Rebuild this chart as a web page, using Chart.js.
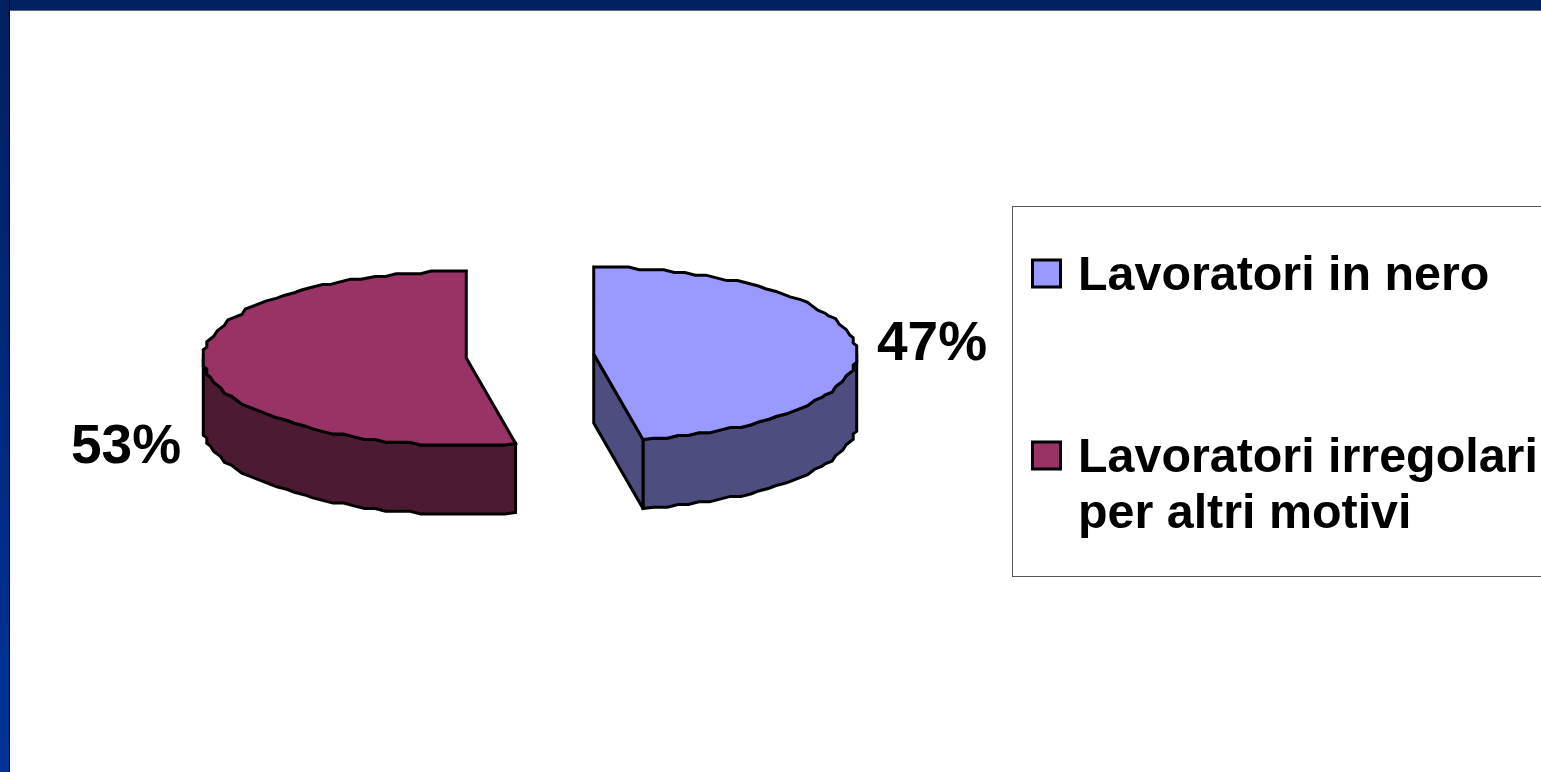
<!DOCTYPE html>
<html lang="it">
<head>
<meta charset="utf-8">
<title>Lavoratori irregolari</title>
<script src="https://cdn.jsdelivr.net/npm/chart.js@4"></script>
<style>
  html, body { margin: 0; padding: 0; background: #fff; overflow: hidden; }
  #wrap { position: relative; width: 1541px; height: 772px; }
  #topBar { position: absolute; left: 0; top: 0; width: 1541px; height: 10px; background: #002060; border-bottom: 1px solid #666; }
  #leftBar { position: absolute; left: 0; top: 0; width: 9px; height: 772px; background: linear-gradient(#002060, #003399); border-right: 1px solid #000; }
  canvas { position: absolute; left: 0; top: 0; }
</style>
</head>
<body>
<div id="wrap">
  <canvas id="torta" width="1541" height="772"></canvas>
  <div id="topBar"></div>
  <div id="leftBar"></div>
</div>
<script>
// Dati
var categorie = [['Lavoratori in nero'], ['Lavoratori irregolari', 'per altri motivi']];
var valori = [47, 53];
var coloriSopra = ['#9999FF', '#993366'];
var coloriLato = ['#4D4D80', '#4D1A33'];

var SCHIACCIA = 87 / 263;  // rapporto ellisse
var SPESSORE = 69;         // altezza della torta

// Punti dell'ellisse tra due angoli, a scalini come nell'originale
function puntiArco(cx, cy, r, a0, a1) {
  var pts = [];
  var gx = r / 75, gy = r * SCHIACCIA / 32;
  var n = Math.max(2, Math.round((a1 - a0) / 0.045));
  for (var i = 0; i <= n; i++) {
    var a = a0 + (a1 - a0) * i / n;
    var x = Math.cos(a) * r;
    var y = Math.sin(a) * r * SCHIACCIA;
    if (i > 0 && i < n) {
      x = Math.round(x / gx) * gx;
      y = Math.round(y / gy) * gy;
    }
    pts.push([cx + x, cy + y]);
  }
  return pts;
}

function tracciaChiusa(ctx, pts, riempi) {
  ctx.beginPath();
  pts.forEach(function (p, i) {
    if (i === 0) ctx.moveTo(p[0], p[1]);
    else ctx.lineTo(p[0], p[1]);
  });
  ctx.closePath();
  ctx.fillStyle = riempi;
  ctx.fill();
  ctx.stroke();
}

// Disegna le fette 3D usando la geometria calcolata da Chart.js
var torta3D = {
  id: 'torta3D',
  beforeDatasetsDraw: function (chart) {
    var ctx = chart.ctx;
    var archi = chart.getDatasetMeta(0).data;
    ctx.save();
    ctx.lineWidth = 3;
    ctx.lineJoin = 'miter';
    ctx.miterLimit = 3;
    ctx.strokeStyle = '#000';
    archi.forEach(function (arco, i) {
      var a0 = arco.startAngle, a1 = arco.endAngle, r = arco.outerRadius;
      var meta = (a0 + a1) / 2;
      var off = arco.options.offset;
      var cx = arco.x + Math.cos(meta) * off;
      var cy = arco.y + Math.sin(meta) * off * SCHIACCIA;
      var bordo = puntiArco(cx, cy, r, a0, a1);

      // parete curva, solo la parte davanti (stessi punti del bordo)
      var davanti = bordo.filter(function (p) { return p[1] >= cy; });
      if (davanti.length > 1) {
        var sotto = davanti.map(function (p) { return [p[0], p[1] + SPESSORE]; }).reverse();
        tracciaChiusa(ctx, davanti.concat(sotto), coloriLato[i]);
      }

      // taglio visibile
      if (Math.cos(a1) > 0.01) {
        var ex = cx + Math.cos(a1) * r, ey = cy + Math.sin(a1) * r * SCHIACCIA;
        tracciaChiusa(ctx, [[cx, cy], [ex, ey], [ex, ey + SPESSORE], [cx, cy + SPESSORE]], coloriLato[i]);
      }

      // faccia superiore
      tracciaChiusa(ctx, [[cx, cy]].concat(bordo), coloriSopra[i]);
    });
    ctx.restore();
    return false;
  }
};

// Etichette percentuali e legenda
var testi = {
  id: 'testi',
  afterDraw: function (chart) {
    var ctx = chart.ctx;
    var dati = chart.data.datasets[0].data;
    ctx.save();
    ctx.fillStyle = '#000';
    ctx.font = 'bold 55px "Liberation Sans", Arial, sans-serif';
    ctx.textBaseline = 'alphabetic';
    ctx.textAlign = 'left';
    ctx.fillText(dati[0] + '%', 877, 360);
    ctx.fillText(dati[1] + '%', 71, 463);

    // riquadro legenda
    ctx.strokeStyle = '#555';
    ctx.lineWidth = 1;
    ctx.strokeRect(1012.5, 206.5, 600, 370);

    ctx.font = 'bold 48.4px "Liberation Sans", Arial, sans-serif';
    var baseY = [290, 472];
    chart.data.labels.forEach(function (righe, i) {
      ctx.fillStyle = coloriSopra[i];
      ctx.strokeStyle = '#000';
      ctx.lineWidth = 3;
      ctx.fillRect(1032.5, baseY[i] - 30, 28, 27);
      ctx.strokeRect(1032.5, baseY[i] - 30, 28, 27);
      ctx.fillStyle = '#000';
      righe.forEach(function (riga, j) {
        ctx.fillText(riga, 1078, baseY[i] + j * 56);
      });
    });
    ctx.restore();
  }
};

new Chart(document.getElementById('torta').getContext('2d'), {
  type: 'pie',
  data: {
    labels: categorie,
    datasets: [{
      data: valori,
      backgroundColor: coloriSopra,
      borderColor: '#000',
      borderWidth: 3,
      offset: 64
    }]
  },
  options: {
    responsive: false,
    animation: false,
    radius: 263,
    layout: { padding: { left: 0, right: 481, top: 0, bottom: 60 } },
    plugins: {
      legend: { display: false },
      tooltip: { enabled: false }
    }
  },
  plugins: [torta3D, testi]
});
</script>
</body>
</html>
